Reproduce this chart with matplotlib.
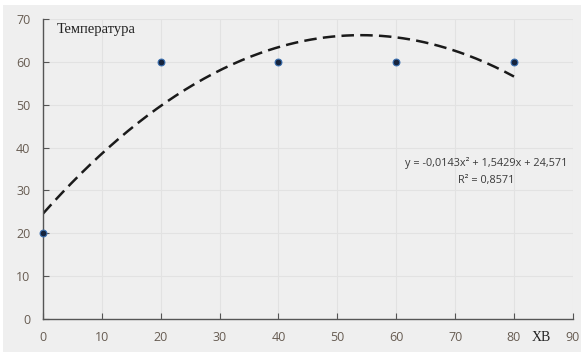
import numpy as np
import matplotlib.pyplot as plt

# measured points
xb = [0, 20, 40, 60, 80]
temperature = [20, 60, 60, 60, 60]
x_ticks = [0, 10, 20, 30, 40, 50, 60, 70, 80, 90]
y_ticks = [0, 10, 20, 30, 40, 50, 60, 70]

# polynomial trendline (order 2), like the spreadsheet one
coef = np.polyfit(xb, temperature, 2)
xs = np.linspace(0, 80, 200)
ys = np.polyval(coef, xs)
r2 = 1 - np.sum((np.array(temperature) - np.polyval(coef, xb)) ** 2) / \
    np.sum((np.array(temperature) - np.mean(temperature)) ** 2)

bg = '#efefef'
fig = plt.figure(figsize=(5.81, 3.52), dpi=100, facecolor='white')
fig.patches.append(plt.Rectangle((0.005, 0.0), 0.995, 0.985, transform=fig.transFigure,
                                 facecolor=bg, edgecolor='none', zorder=-1))
ax = fig.add_axes([0.074, 0.094, 0.912, 0.852])
ax.set_facecolor(bg)

ax.plot(xs, ys, color='#1a1a1a', linestyle=(0, (5, 2.5)), linewidth=1.8, zorder=2)
ax.scatter(xb, temperature, s=24, color='#16243d', edgecolor='#3a6fb0', linewidth=0.8,
           zorder=3, clip_on=False)

ax.set_xlim(0, 90)
ax.set_ylim(0, 70)
ax.set_xticks(x_ticks)
ax.set_yticks(y_ticks)
ax.grid(True, color='#e2e2e2', linewidth=0.8)
ax.set_axisbelow(True)
for side in ['top', 'right']:
    ax.spines[side].set_visible(False)
for side in ['left', 'bottom']:
    ax.spines[side].set_color('#555555')
    ax.spines[side].set_linewidth(1.0)
ax.tick_params(direction='in', length=4, width=0.8, color='#555555',
               labelcolor='#675c52', labelsize=9, pad=9)
for lab in ax.get_xticklabels() + ax.get_yticklabels():
    lab.set_family('Open Sans')

ax.text(2.4, 67.6, 'Температура', family='Liberation Serif', fontsize=10.5,
        color='#222222', va='center')
ax.text(84.6, -4.4, 'ХВ', family='Liberation Serif', fontsize=10, color='#222222',
        ha='center', va='center', clip_on=False)

a, b, c = coef
eq = 'y = {:.4f}x² + {:.4f}x + {:.3f}'.format(a, b, c).replace('.', ',')
ax.text(75.3, 36.4, eq, family='Open Sans', fontsize=7.8, color='#3a3a3a',
        ha='center', va='center')
ax.text(75.3, 32.4, 'R² = {:.4f}'.format(r2).replace('.', ','), family='Open Sans',
        fontsize=7.8, color='#3a3a3a', ha='center', va='center')

fig.savefig('out.png', dpi=100, facecolor=fig.get_facecolor())
